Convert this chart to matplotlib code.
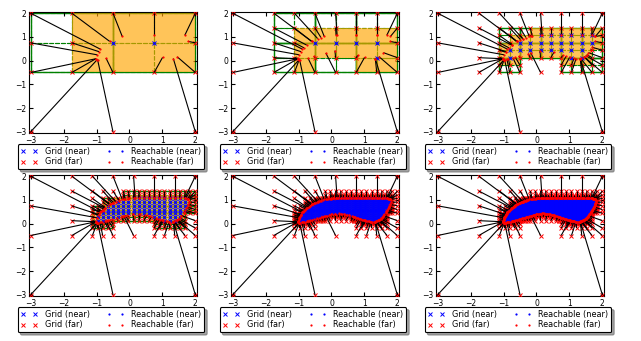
import numpy as np
import matplotlib
matplotlib.use('Agg')
import matplotlib.pyplot as plt
from matplotlib.path import Path
from matplotlib.transforms import Bbox
from matplotlib.collections import LineCollection, PatchCollection
from matplotlib.patches import Rectangle
from matplotlib.lines import Line2D

# grid domain and where the coarse grid is split
domain_x = [-3.0, 2.0]
domain_y = [-3.0, 2.0]
split_x = -0.5
split_y = -0.5

# outline of the reachable set
set_x = [-1.02, -0.97, -0.88, -0.75, -0.60, -0.42, -0.22, 0.00, 0.40, 0.90,
         1.40, 1.68, 1.79, 1.80, 1.75, 1.66, 1.56, 1.45, 1.33, 1.20, 1.05,
         0.85, 0.60, 0.40, 0.20, 0.05, -0.15, -0.40, -0.65, -0.85, -0.98]
set_y = [0.08, 0.28, 0.48, 0.66, 0.81, 0.93, 1.02, 1.06, 1.08, 1.08,
         1.08, 1.07, 1.02, 0.90, 0.72, 0.50, 0.30, 0.16, 0.09, 0.08, 0.12,
         0.20, 0.32, 0.40, 0.43, 0.42, 0.33, 0.24, 0.13, 0.06, 0.04]

# refinement level drawn in each panel
panel_levels = [1, 2, 3, 4, 5, 6]
tick_values = [-3, -2, -1, 0, 1, 2]
legend_labels = ['Grid (near)', 'Grid (far)', 'Reachable (near)', 'Reachable (far)']

poly = np.column_stack([set_x, set_y])
set_path = Path(np.vstack([poly, poly[:1]]), closed=True)


def hits(c):
    return set_path.intersects_bbox(Bbox.from_extents(*c), filled=True)


def split(c):
    x0, y0, x1, y1 = c
    xm, ym = (x0 + x1) / 2, (y0 + y1) / 2
    return [(x0, y0, xm, ym), (xm, y0, x1, ym), (x0, ym, xm, y1), (xm, ym, x1, y1)]


def corners(cells):
    out = set()
    for x0, y0, x1, y1 in cells:
        for p in [(x0, y0), (x1, y0), (x0, y1), (x1, y1)]:
            out.add((round(p[0], 6), round(p[1], 6)))
    return out


def project(pts):
    a = poly
    d = np.roll(poly, -1, axis=0) - a
    ap = pts[:, None, :] - a[None]
    t = np.clip((ap * d).sum(-1) / (d * d).sum(-1), 0, 1)
    q = a[None] + t[..., None] * d[None]
    dist = ((pts[:, None, :] - q) ** 2).sum(-1)
    k = dist.argmin(1)
    return q[np.arange(len(pts)), k]


xe = [domain_x[0], split_x, domain_x[1]]
ye = [domain_y[0], split_y, domain_y[1]]
cells = [(xe[i], ye[j], xe[i + 1], ye[j + 1]) for j in range(2) for i in range(2)]
points = corners(cells)

stages = {}
for lev in range(1, max(panel_levels) + 1):
    parents = [c for c in cells if hits(c)]
    kids = [k for c in parents for k in split(c)]
    points = points | corners(kids)
    stages[lev] = (parents, kids, sorted(points))
    cells = kids

fig = plt.figure(figsize=(6.41, 3.41), dpi=100)
lefts = [29 / 641, 231 / 641, 436 / 641]
bottoms = [1 - 133 / 341, 1 - 296 / 341]

for n, lev in enumerate(panel_levels):
    ax = fig.add_axes([lefts[n % 3], bottoms[n // 3], 168 / 641, 121 / 341])
    parents, kids, pts = stages[lev]
    pts = np.array(pts)

    kid_rects = [Rectangle((c[0], c[1]), c[2] - c[0], c[3] - c[1]) for c in kids]
    ax.add_collection(PatchCollection(kid_rects, facecolor='none', edgecolor='green',
                                      linestyle='--', linewidth=0.8, zorder=1))
    par_rects = [Rectangle((c[0], c[1]), c[2] - c[0], c[3] - c[1]) for c in parents]
    ax.add_collection(PatchCollection(par_rects, facecolor='none', edgecolor='green',
                                      linewidth=1.0, zorder=1))
    hot = [Rectangle((c[0], c[1]), c[2] - c[0], c[3] - c[1]) for c in kids if hits(c)]
    ax.add_collection(PatchCollection(hot, facecolor='orange', edgecolor='none',
                                      alpha=0.65, zorder=2))

    inside = set_path.contains_points(pts)
    near = pts[inside]
    far = pts[~inside]
    reach = project(far)

    ax.plot(near[:, 0], near[:, 1], 'bx', ms=2.8, mew=0.7, zorder=3)
    ax.plot(far[:, 0], far[:, 1], 'rx', ms=2.8, mew=0.7, zorder=3)

    segs = np.stack([far, reach], axis=1)
    ax.add_collection(LineCollection(segs, colors='black', linewidths=0.8, zorder=4))

    ax.plot(near[:, 0], near[:, 1], 'b.', ms=3.2, mew=0, zorder=5)
    ax.plot(reach[:, 0], reach[:, 1], 'r.', ms=3.2, mew=0, zorder=5)

    ax.set_xlim(-3.05, 2.05)
    ax.set_ylim(-3.05, 2.05)
    ax.set_xticks(tick_values)
    ax.set_yticks(tick_values)
    ax.tick_params(labelsize=5.5, direction='in', length=3, top=True, right=True, pad=2)

    handles = [Line2D([], [], color='b', marker='x', ls='none', ms=2.8, mew=0.7),
               Line2D([], [], color='r', marker='x', ls='none', ms=2.8, mew=0.7),
               Line2D([], [], color='b', marker='.', ls='none', ms=3.2, mew=0),
               Line2D([], [], color='r', marker='.', ls='none', ms=3.2, mew=0)]
    leg = ax.legend(handles, legend_labels, loc='upper center', bbox_to_anchor=(0.488, -0.09),
                    ncol=2, fontsize=5.9, numpoints=2, shadow=True, fancybox=True,
                    framealpha=1, edgecolor='black', borderaxespad=0,
                    handlelength=2.1, columnspacing=2.05, handletextpad=0.9,
                    labelspacing=0.2, borderpad=0.35)
    leg.get_frame().set_linewidth(0.8)

fig.savefig('out.png', dpi=100)
